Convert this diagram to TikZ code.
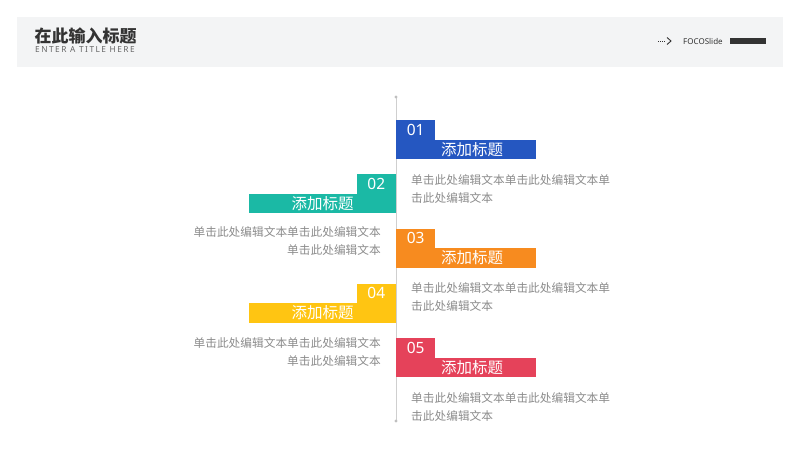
\documentclass[tikz,border=0pt]{standalone}
\usepackage{fontspec}
\setmainfont{Noto Sans CJK SC}
\newfontfamily\numfont{Noto Sans}
\newfontfamily\subfont[LetterSpace=18]{Noto Sans}
\definecolor{hdrbg}{HTML}{F3F4F5}
\definecolor{hdrtxt}{HTML}{333333}
\definecolor{subtxt}{HTML}{666666}
\definecolor{desctxt}{HTML}{8C8C8C}
\definecolor{linegray}{HTML}{CFCFCF}
\definecolor{cA}{HTML}{2557C1}
\definecolor{cB}{HTML}{1BB9A5}
\definecolor{cC}{HTML}{F78B1F}
\definecolor{cD}{HTML}{FFC512}
\definecolor{cE}{HTML}{E5425A}
\tikzset{
  numbox/.style={draw=none, inner sep=0pt, minimum width=39pt, minimum height=19.5pt,
    text=white, font=\numfont\fontsize{15.5}{16}\selectfont},
  barbox/.style={draw=none, inner sep=0pt, minimum height=19.5pt},
  bartext/.style={inner sep=0pt, text=white, font=\fontsize{15.5}{16}\selectfont},
  desc/.style={inner sep=0pt, text=desctxt, font=\fontsize{11.7}{18}\selectfont},
}
\begin{document}
\begin{tikzpicture}[x=1pt,y=-1pt]
\useasboundingbox (0,0) rectangle (800,450);
\fill[white] (0,0) rectangle (800,450);
% header
\fill[hdrbg] (17,17) rectangle (783,67);
\node[anchor=west, inner sep=0pt, text=hdrtxt, font=\bfseries\fontsize{17}{18}\selectfont] (title) at (34.5,35.5) {在此输入标题};
\node[anchor=west, inner sep=0pt, text=subtxt, font=\subfont\fontsize{8.3}{9}\selectfont] (subtitle) at (35,49.5) {ENTER A TITLE HERE};
\coordinate (arA) at (658,41);
\coordinate (arB) at (666,41);
\draw[hdrtxt, line width=0.8pt, dash pattern=on 1pt off 1pt] (arA) -- (arB);
\draw[hdrtxt, line width=0.9pt] (667,37.5) -- (671,41) -- (667,44.5);
\node[anchor=west, inner sep=0pt, text=hdrtxt, font=\numfont\fontsize{8}{9}\selectfont] (brand) at (683,41) {FOCOSlide};
\fill[hdrtxt] (730,38) rectangle (766,44);
% axis
\coordinate (top) at (396,97);
\coordinate (bot) at (396,421);
\draw[linegray, line width=1pt] (top) -- (bot);
\fill[linegray!80!gray] (top) circle (1.6pt) (bot) circle (1.6pt);
% item 1 (right)
\node[numbox, fill=cA, anchor=north west] (n1) at (396,120) {01};
\node[barbox, fill=cA, anchor=north west, minimum width=140pt] (b1) at (396,139.5) {};
\node[bartext] (t1) at (472,149.5) {添加标题};
\node[desc, anchor=north west, align=left] (d1) at (411,174.5) {单击此处编辑文本单击此处编辑文本单\\击此处编辑文本};
% item 2 (left)
\node[numbox, fill=cB, anchor=north east] (n2) at (396,174) {02};
\node[barbox, fill=cB, anchor=north east, minimum width=147pt] (b2) at (396,193.5) {};
\node[bartext] (t2) at (322.5,203.5) {添加标题};
\node[desc, anchor=north east, align=right] (d2) at (381,226.5) {单击此处编辑文本单击此处编辑文本\\单击此处编辑文本};
% item 3 (right)
\node[numbox, fill=cC, anchor=north west] (n3) at (396,228.5) {03};
\node[barbox, fill=cC, anchor=north west, minimum width=140pt] (b3) at (396,248) {};
\node[bartext] (t3) at (472,258) {添加标题};
\node[desc, anchor=north west, align=left] (d3) at (411,282.5) {单击此处编辑文本单击此处编辑文本单\\击此处编辑文本};
% item 4 (left)
\node[numbox, fill=cD, anchor=north east] (n4) at (396,283.5) {04};
\node[barbox, fill=cD, anchor=north east, minimum width=147pt] (b4) at (396,303) {};
\node[bartext] (t4) at (322.5,313) {添加标题};
\node[desc, anchor=north east, align=right] (d4) at (381,337.5) {单击此处编辑文本单击此处编辑文本\\单击此处编辑文本};
% item 5 (right)
\node[numbox, fill=cE, anchor=north west] (n5) at (396,338) {05};
\node[barbox, fill=cE, anchor=north west, minimum width=140pt] (b5) at (396,357.5) {};
\node[bartext] (t5) at (472,367.5) {添加标题};
\node[desc, anchor=north west, align=left] (d5) at (411,392.5) {单击此处编辑文本单击此处编辑文本单\\击此处编辑文本};
\end{tikzpicture}
\end{document}
